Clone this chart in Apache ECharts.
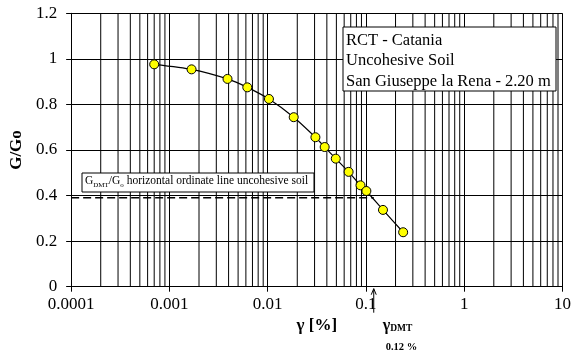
<!DOCTYPE html>
<html>
<head>
<meta charset="utf-8">
<script src="https://cdn.jsdelivr.net/npm/echarts@6/dist/echarts.min.js"></script>
<style>
  html, body { margin: 0; padding: 0; background: #fff; }
  #chart { width: 574px; height: 354px; }
</style>
</head>
<body>
<div id="chart"></div>
<script>
// shear strain (%) and normalised shear modulus
var gamma = [0.0007, 0.00168, 0.0039, 0.0062, 0.0103, 0.0184, 0.0306, 0.038, 0.0493, 0.0666, 0.088, 0.101, 0.149, 0.239];
var ratio = [0.976, 0.954, 0.912, 0.875, 0.824, 0.744, 0.656, 0.613, 0.562, 0.504, 0.445, 0.420, 0.337, 0.239];

var gammaDmt = 0.12;
var ratioDmt = 0.39;

var decades = [0.0001, 0.001, 0.01, 0.1, 1];
var minorSteps = [2, 3, 4, 5, 6, 7, 8, 9];
var legendLines = ['RCT - Catania', 'Uncohesive Soil', 'San Giuseppe la Rena - 2.20 m'];

var serif = '"Liberation Serif", "Times New Roman", serif';
var ink = '#000';

// positions of the minor log gridlines (2..9 in every decade)
var minorGrid = [];
decades.forEach(function (d) {
  minorSteps.forEach(function (k) {
    minorGrid.push([parseFloat((d * k).toPrecision(3))]);
  });
});

var chart = echarts.init(document.getElementById('chart'));
chart.setOption({
  animation: false,
  grid: { left: 66.5, right: 9, top: 13.3, bottom: 67.3 },
  xAxis: {
    type: 'log',
    logBase: 10,
    min: 0.0001,
    max: 10,
    name: 'γ [%]',
    nameLocation: 'middle',
    nameGap: 29,
    nameTextStyle: { color: ink, fontFamily: serif, fontWeight: 'bold', fontSize: 17 },
    axisLine: { lineStyle: { color: ink, width: 1 } },
    axisTick: { show: true, length: 5, lineStyle: { color: ink } },
    axisLabel: {
      color: ink, fontFamily: serif, fontSize: 17, margin: 9,
      formatter: function (v) { return String(parseFloat(v.toPrecision(6))); }
    },
    splitLine: { show: true, lineStyle: { color: ink, width: 1 } },
    minorTick: { show: false },
    minorSplitLine: { show: false }
  },
  yAxis: {
    type: 'value',
    min: 0,
    max: 1.2,
    interval: 0.2,
    name: 'G/Go',
    nameLocation: 'middle',
    nameGap: 43,
    nameTextStyle: { color: ink, fontFamily: serif, fontWeight: 'bold', fontSize: 17 },
    axisLine: { show: true, lineStyle: { color: ink, width: 1 } },
    axisTick: { show: true, length: 5, lineStyle: { color: ink } },
    axisLabel: { color: ink, fontFamily: serif, fontSize: 17, margin: 14 },
    splitLine: { show: true, lineStyle: { color: ink, width: 1 } }
  },
  series: [
    {
      type: 'custom',
      z: 1,
      silent: true,
      data: minorGrid,
      renderItem: function (params, api) {
        var v = api.value(0);
        var p0 = api.coord([v, 0]);
        var p1 = api.coord([v, 1.2]);
        return {
          type: 'line',
          shape: { x1: p0[0], y1: p0[1], x2: p1[0], y2: p1[1] },
          style: { stroke: ink, lineWidth: 1 }
        };
      }
    },
    {
      // G_DMT/Go ordinate, dashed up to gamma_DMT
      type: 'line',
      z: 2,
      silent: true,
      symbol: 'none',
      data: [[0.0001, ratioDmt], [gammaDmt, ratioDmt]],
      lineStyle: { color: ink, width: 1.5, type: [8, 4] }
    },
    {
      type: 'line',
      z: 3,
      data: gamma.map(function (g, i) { return [g, ratio[i]]; }),
      smooth: 0.2,
      symbol: 'circle',
      symbolSize: 9,
      lineStyle: { color: ink, width: 1.2 },
      itemStyle: { color: '#ffff00', borderColor: ink, borderWidth: 1 }
    }
  ]
});

var ax = chart.convertToPixel({ xAxisIndex: 0 }, gammaDmt);
var axisY = chart.convertToPixel({ yAxisIndex: 0 }, 0);

chart.setOption({
  graphic: [
    {
      type: 'rect', left: 342.5, top: 26.5, z: 10,
      shape: { width: 213, height: 64 },
      style: { fill: '#fff', stroke: ink, lineWidth: 1 }
    },
    {
      type: 'text', left: 346, top: 30, z: 11,
      style: {
        text: legendLines.join('\n'),
        fill: ink, font: '16.5px ' + serif, lineHeight: 20.5
      }
    },
    {
      type: 'rect', left: 81.5, top: 172.5, z: 10,
      shape: { width: 232, height: 19 },
      style: { fill: '#fff', stroke: ink, lineWidth: 1 }
    },
    {
      type: 'text', left: 85, top: 175, z: 11,
      style: {
        text: '{m|G}{s|DMT}{m|/G}{s|o}{m| horizontal ordinate line uncohesive soil}',
        rich: {
          m: { fill: ink, fontFamily: serif, fontSize: 11.5, lineHeight: 15, verticalAlign: 'middle' },
          s: { fill: ink, fontFamily: serif, fontSize: 7, lineHeight: 15, verticalAlign: 'bottom' }
        }
      }
    },
    {
      type: 'line', z: 10,
      shape: { x1: ax, y1: axisY + 26, x2: ax, y2: axisY + 2 },
      style: { stroke: ink, lineWidth: 1 }
    },
    {
      type: 'polyline', z: 10,
      shape: { points: [[ax - 2.5, axisY + 8], [ax, axisY + 2], [ax + 2.5, axisY + 8]] },
      style: { stroke: ink, lineWidth: 1, fill: null }
    },
    {
      type: 'text', left: ax + 9, top: axisY + 31, z: 11,
      style: {
        text: '{g|γ}{s|DMT}',
        rich: {
          g: { fill: ink, fontFamily: serif, fontWeight: 'bold', fontSize: 16, lineHeight: 16, verticalAlign: 'middle' },
          s: { fill: ink, fontFamily: serif, fontWeight: 'bold', fontSize: 9.5, lineHeight: 16, verticalAlign: 'bottom' }
        }
      }
    },
    {
      type: 'text', left: ax + 12, top: axisY + 55, z: 11,
      style: { text: gammaDmt + ' %', fill: ink, font: 'bold 10.5px ' + serif }
    }
  ]
});
</script>
</body>
</html>
